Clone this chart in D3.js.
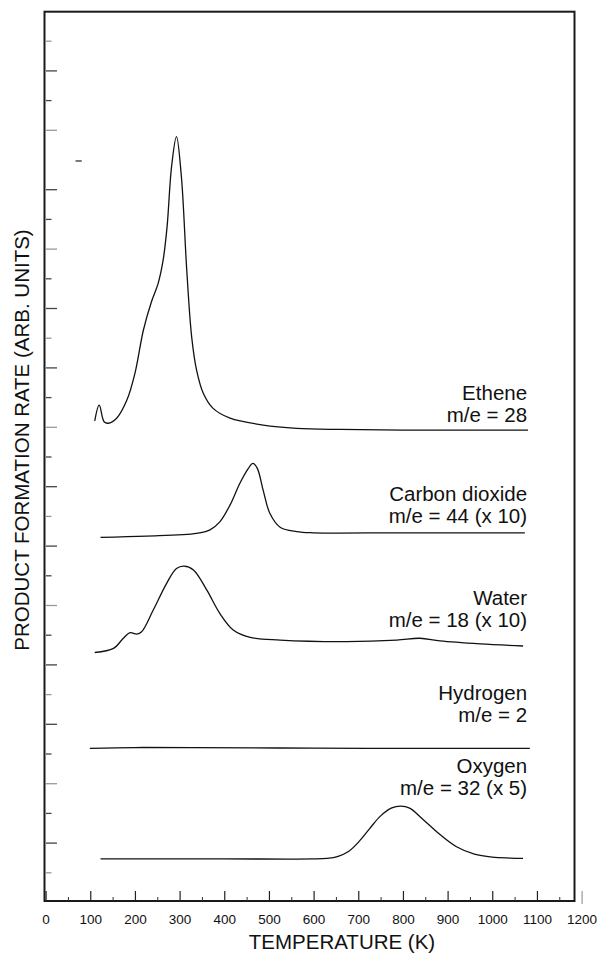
<!DOCTYPE html>
<html>
<head>
<meta charset="utf-8">
<script src="https://cdn.jsdelivr.net/npm/d3@7"></script>
<style>
body { margin: 0; background: #fff; }
text { font-family: "Liberation Sans", Arial, sans-serif; fill: #111; }
</style>
</head>
<body>
<script>
// temperatures (K) and rates (arb. units, offset traces)
var etheneT = [110, 120, 131, 140, 159, 182, 200, 219, 237, 252, 263, 272, 282, 293, 304, 316, 327, 338, 353, 375, 413, 487, 562, 659, 800, 1080];
var etheneRate = [16.2, 16.73, 16.17, 16.12, 16.29, 16.9, 17.8, 19.26, 20.21, 20.83, 21.6, 22.74, 24.76, 25.77, 24.42, 21.28, 19.03, 17.91, 17.13, 16.62, 16.29, 16.06, 15.95, 15.91, 15.89, 15.89];

var co2T = [123, 226, 338, 368, 390, 413, 435, 454, 464, 474, 487, 502, 525, 562, 600, 800, 1073];
var co2Rate = [12.28, 12.32, 12.41, 12.53, 12.8, 13.37, 14.1, 14.6, 14.77, 14.6, 13.87, 13.09, 12.62, 12.47, 12.43, 12.43, 12.43];

var waterT = [110, 152, 174, 189, 204, 215, 241, 271, 293, 310, 331, 361, 390, 420, 458, 525, 674, 786, 838, 883, 973, 1069];
var waterRate = [8.4, 8.54, 8.88, 9.07, 9.02, 9.1, 9.83, 10.73, 11.23, 11.31, 11.18, 10.5, 9.72, 9.16, 8.91, 8.82, 8.77, 8.82, 8.88, 8.79, 8.69, 8.62];

var hydrogenT = [99, 200, 330, 600, 900, 1084];
var hydrogenRate = [5.17, 5.2, 5.2, 5.18, 5.17, 5.17];

var oxygenT = [123, 400, 600, 630, 655, 678, 702, 726, 750, 775, 795, 815, 845, 883, 920, 960, 1000, 1040, 1069];
var oxygenRate = [1.45, 1.45, 1.45, 1.47, 1.54, 1.7, 2.04, 2.48, 2.9, 3.17, 3.23, 3.16, 2.78, 2.27, 1.86, 1.61, 1.51, 1.48, 1.47];

var seriesNames = ['Ethene', 'Carbon dioxide', 'Water', 'Hydrogen', 'Oxygen'];
var seriesMasses = ['m/e = 28', 'm/e = 44 (x 10)', 'm/e = 18 (x 10)', 'm/e = 2', 'm/e = 32 (x 5)'];
// label baselines in rate units
var labelRate = [16.9, 13.5, 10.0, 6.8, 4.34];

var xMajorTicks = [0, 100, 200, 300, 400, 500, 600, 700, 800, 900, 1000, 1100, 1200];
var xMinorTicks = [50, 150, 250, 350, 450, 550, 650, 750, 850, 950, 1050, 1150];
var yTicks = [1, 2, 3, 4, 5, 6, 7, 8, 9, 10, 11, 12, 13, 14, 15, 16, 17, 18, 19, 20, 21, 22, 23, 24, 26, 27, 28, 29];

var xTitle = 'TEMPERATURE (K)';
var yTitle = 'PRODUCT FORMATION RATE (ARB. UNITS)';

var width = 599, height = 956;

var x = d3.scaleLinear().domain([0, 1200]).range([45.6, 581.6]);
var y = d3.scaleLinear().domain([0, 30]).range([902, 11]);

var svg = d3.select('body').append('svg')
	.attr('width', width)
	.attr('height', height);

// frame
svg.append('rect')
	.attr('x', 44.5)
	.attr('y', 11.7)
	.attr('width', 574.5 - 44.5)
	.attr('height', 901 - 11.7)
	.attr('fill', 'none')
	.attr('stroke', '#1a1a1a')
	.attr('stroke-width', 2);

// x axis: major ticks with labels, minor ticks without
var xMajor = svg.append('g')
	.attr('transform', 'translate(0,901)')
	.call(d3.axisBottom(x).tickValues(xMajorTicks).tickSizeInner(-10).tickSizeOuter(0).tickPadding(13).tickFormat(d3.format('d')));
var xMinor = svg.append('g')
	.attr('transform', 'translate(0,901)')
	.call(d3.axisBottom(x).tickValues(xMinorTicks).tickSizeInner(-4).tickSizeOuter(0).tickFormat(''));
svg.selectAll('.domain').remove();
xMajor.selectAll('line').attr('stroke', '#222').attr('stroke-width', 1.2);
xMinor.selectAll('line').attr('stroke', '#333');
xMajor.selectAll('text')
	.attr('font-size', 13.5)
	.attr('font-family', '"Liberation Sans", Arial, sans-serif')
	.attr('fill', '#111');
// the 1200 tick sits outside the frame, grey and crossing the axis line
xMajor.selectAll('.tick').filter(function(d){return d === 1200;}).select('line')
	.attr('stroke', '#999')
	.attr('y1', 3);

// y axis: inward ticks, long and short alternating
var yAxis = svg.append('g')
	.attr('transform', 'translate(46,0)')
	.call(d3.axisLeft(y).tickValues(yTicks).tickSize(0).tickFormat(''));
yAxis.select('.domain').remove();
yAxis.selectAll('.tick line')
	.attr('x2', function(d){return d % 2 === 0 ? 11 : 5.5;})
	.attr('stroke', function(d,i){return i % 3 === 0 ? '#999' : '#444';})
	.attr('stroke-width', 1.3);

// stray tick mark that was displaced from rate 25
svg.append('line')
	.attr('x1', x(67)).attr('x2', x(81))
	.attr('y1', y(24.95)).attr('y2', y(24.95))
	.attr('stroke', '#333')
	.attr('stroke-width', 1.3);

var line = d3.line()
	.x(function(d){return x(d[0]);})
	.y(function(d){return y(d[1]);})
	.curve(d3.curveCatmullRom.alpha(0.5));

var seriesT = [etheneT, co2T, waterT, hydrogenT, oxygenT];
var seriesRate = [etheneRate, co2Rate, waterRate, hydrogenRate, oxygenRate];

seriesT.forEach(function(ts, i){
	svg.append('path')
		.datum(d3.zip(ts, seriesRate[i]))
		.attr('d', line)
		.attr('fill', 'none')
		.attr('stroke', '#111')
		.attr('stroke-width', 1.3);
});

// trace labels, right aligned
var labels = svg.append('g').attr('font-size', 20.5).attr('text-anchor', 'end');
seriesNames.forEach(function(name, i){
	labels.append('text')
		.attr('x', x(1078))
		.attr('y', y(labelRate[i]))
		.text(name);
	labels.append('text')
		.attr('x', x(1078))
		.attr('y', y(labelRate[i]) + 21.5)
		.text(seriesMasses[i]);
});

// axis titles
svg.append('text')
	.attr('x', 342)
	.attr('y', 949)
	.attr('text-anchor', 'middle')
	.attr('font-size', 20.5)
	.text(xTitle);

svg.append('text')
	.attr('transform', 'translate(29,440) rotate(-90)')
	.attr('text-anchor', 'middle')
	.attr('font-size', 20.5)
	.text(yTitle);
</script>
</body>
</html>
